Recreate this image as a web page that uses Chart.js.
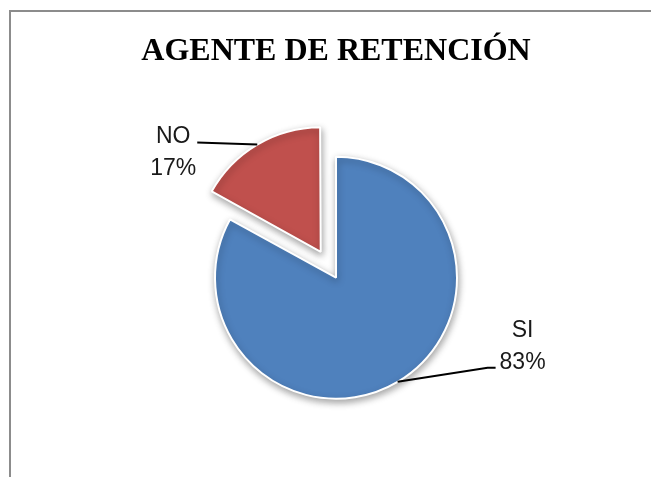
<!DOCTYPE html>
<html>
<head>
<meta charset="utf-8">
<script src="https://cdn.jsdelivr.net/npm/chart.js@4"></script>
<style>
  html, body { margin: 0; padding: 0; background: #fff; }
  #wrap { width: 651px; height: 477px; }
</style>
</head>
<body>
<div id="wrap"><canvas id="pieChart" width="651" height="477"></canvas></div>
<script>
// Data
const categories = ["SI", "NO"];
const percentages = [83, 17];
const sliceColors = ["#4F81BD", "#C0504D"];
const sliceOffsets = [0, 120]; // NO slice pulled out

// Label placement: line end relative to the slice edge, text block relative to line end
const labelStyle = [
  { dx: 90, dy: -14, tx: 27, firstBaseline: -31 },
  { dx: -60, dy: -2, tx: -24, firstBaseline: 0 }
];

// Frame + white background
const framePlugin = {
  id: "frame",
  beforeDraw(chart) {
    const ctx = chart.ctx;
    ctx.save();
    ctx.fillStyle = "#fff";
    ctx.fillRect(0, 0, chart.width, chart.height);
    ctx.strokeStyle = "#8c8c8c";
    ctx.lineWidth = 2;
    ctx.beginPath();
    ctx.moveTo(10, chart.height);
    ctx.lineTo(10, 11);
    ctx.lineTo(chart.width, 11);
    ctx.stroke();
    ctx.restore();
  }
};

// Soft shadow under the pie
const shadowPlugin = {
  id: "pieShadow",
  beforeDatasetsDraw(chart) {
    const ctx = chart.ctx;
    ctx.save();
    ctx.shadowColor = "rgba(0,0,0,0.35)";
    ctx.shadowBlur = 7;
    ctx.shadowOffsetX = 1;
    ctx.shadowOffsetY = 3;
  },
  afterDatasetsDraw(chart) {
    chart.ctx.restore();
  }
};

// Same shift ArcElement applies for its offset option
function arcShift(arc) {
  const off = (arc.options.offset || 0) / 4;
  const circ = arc.endAngle - arc.startAngle;
  const fix = 1 - Math.sin(Math.min(Math.PI, circ));
  return off + off * fix;
}

// Leader lines and labels
const labelPlugin = {
  id: "pieLabels",
  afterDraw(chart) {
    const ctx = chart.ctx;
    const meta = chart.getDatasetMeta(0);
    ctx.save();
    ctx.font = "23px 'Liberation Sans', Arial, sans-serif";
    ctx.fillStyle = "#1a1a1a";
    ctx.strokeStyle = "#000";
    ctx.lineWidth = 2;
    ctx.textAlign = "center";
    ctx.textBaseline = "alphabetic";
    meta.data.forEach((arc, i) => {
      const mid = (arc.startAngle + arc.endAngle) / 2;
      const shift = arcShift(arc);
      const r = arc.outerRadius + shift;
      const ex = arc.x + Math.cos(mid) * r;
      const ey = arc.y + Math.sin(mid) * r;
      const st = labelStyle[i];
      const lx = ex + st.dx;
      const ly = ey + st.dy;
      ctx.beginPath();
      ctx.moveTo(ex, ey);
      ctx.lineTo(lx, ly);
      if (st.dx > 0) ctx.lineTo(lx + 8, ly);
      ctx.stroke();
      const cx = lx + st.tx + (st.dx > 0 ? 8 : 0);
      ctx.fillText(categories[i], cx, ly + st.firstBaseline);
      ctx.fillText(percentages[i] + "%", cx, ly + st.firstBaseline + 32);
    });
    ctx.restore();
  }
};

new Chart(document.getElementById("pieChart"), {
  type: "pie",
  data: {
    labels: categories,
    datasets: [{
      data: percentages,
      backgroundColor: sliceColors,
      borderColor: "#ffffff",
      borderWidth: 2,
      offset: sliceOffsets
    }]
  },
  options: {
    responsive: false,
    animation: false,
    radius: 121,
    rotation: 0,
    layout: { padding: { left: 21, right: 0, top: 0, bottom: 0 } },
    plugins: {
      legend: { display: false },
      tooltip: { enabled: false },
      title: {
        display: true,
        text: "AGENTE DE RETENCIÓN",
        color: "#000",
        font: { family: "'Liberation Serif', 'Times New Roman', serif", size: 32, weight: "bold" },
        padding: { top: 33, bottom: 7 }
      }
    }
  },
  plugins: [framePlugin, shadowPlugin, labelPlugin]
});
</script>
</body>
</html>
